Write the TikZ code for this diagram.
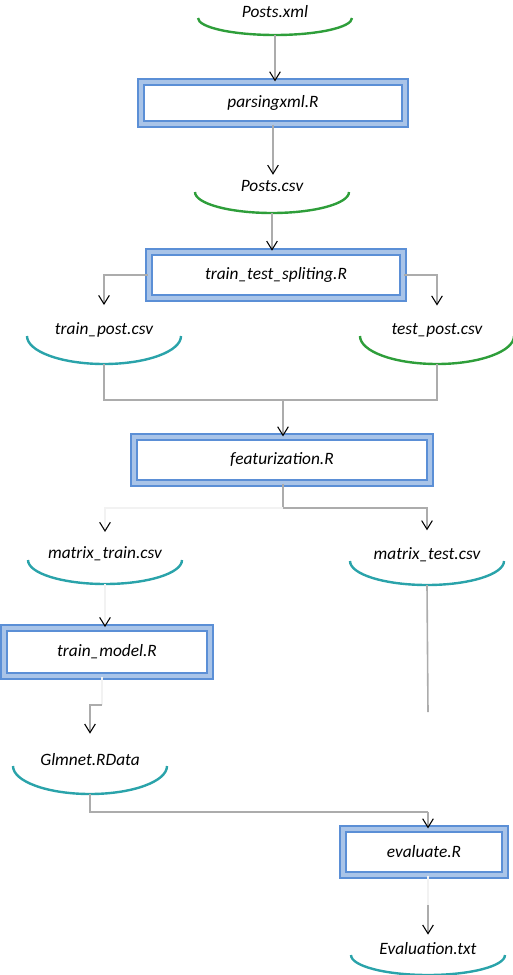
\documentclass[tikz,border=0pt]{standalone}
\usepackage{fontspec}
\setmainfont{Carlito}
\usetikzlibrary{arrows.meta,calc}
\definecolor{scriptblue}{HTML}{5B8FD6}
\definecolor{scriptband}{HTML}{A9C4E8}
\definecolor{filegreen}{HTML}{2E9E3A}
\definecolor{fileteal}{HTML}{2AA3AA}
\tikzset{
  script/.style={draw=scriptblue, double=scriptband, line width=1.4pt,
    double distance=3pt, font=\itshape\fontsize{13}{15}\selectfont},
  filename/.style={inner sep=1pt, font=\itshape\fontsize{13}{15}\selectfont},
  wire/.style={draw=gray!65, line width=1.2pt},
  pale/.style={draw=gray!10, line width=1.2pt},
  pics/datafile/.style n args={3}{code={
    \node[filename] (-t) at (0,0) {#1};
    \draw[#2, line width=1.8pt] (-77,6) arc[start angle=180, end angle=0, x radius=77, y radius=#3];
    \coordinate (-b) at (0,6+#3);
  }},
}
\begin{document}
\begin{tikzpicture}[x=0.75pt, y=-0.75pt,
    >={Straight Barb[length=6.5pt, width=8pt, color=black, line width=0.8pt]}]
    \useasboundingbox (0,0) rectangle (513,975);
    % files and scripts
    \pic (postsxml) at (275,12) {datafile={Posts.xml}{filegreen}{17}};
    \node[script, minimum width=198pt, minimum height=31pt] (parsing) at (273,103) {parsingxml.R};
    \pic (postscsv) at (272,186) {datafile={Posts.csv}{filegreen}{21}};
    \node[script, minimum width=191pt, minimum height=35pt] (split) at (276,275) {train\_test\_spliting.R};
    \pic (trainpost) at (104,330) {datafile={train\_post.csv}{fileteal}{28}};
    \pic (testpost) at (437,330) {datafile={test\_post.csv}{filegreen}{28}};
    \node[script, minimum width=222pt, minimum height=34pt] (feat) at (282,460) {featurization.R};
    \pic (matrixtrain) at (105,554) {datafile={matrix\_train.csv}{fileteal}{24}};
    \pic (matrixtest) at (427,555) {datafile={matrix\_test.csv}{fileteal}{24}};
    \node[script, minimum width=154pt, minimum height=36pt] (trainmodel) at (107,652) {train\_model.R};
    \pic (glmnet) at (90,760) {datafile={Glmnet.RData}{fileteal}{28}};
    \node[script, minimum width=121pt, minimum height=34pt] (evaluate) at (424,852) {evaluate.R};
    \pic (evaltxt) at (428,949) {datafile={Evaluation.txt}{fileteal}{20}};
    % bends
    \coordinate (merge) at (283,400);
    \coordinate (fbend) at (283,508);
    \coordinate (tmbend) at (102,705);
    \coordinate (evbend) at (428,812);
    \coordinate (evmid) at (428,905);
    \coordinate (mtend) at (428,712);
    % connectors
    \draw[wire,->] (postsxml-b) -- (postsxml-b |- parsing.north);
    \draw[wire,->] (parsing.south) -- ([yshift=3pt]parsing.south |- postscsv-t.north);
    \draw[wire,->] (postscsv-b) -- (postscsv-b |- split.north);
    \draw[wire,->] (split.west) -| ([yshift=12pt]trainpost-t.north);
    \draw[wire,->] (split.east) -| ([yshift=12pt]testpost-t.north);
    \draw[wire] (trainpost-b) |- (merge) -| (testpost-b);
    \draw[wire,->] (merge) -- (merge |- feat.north);
    \draw[wire] (feat.south -| fbend) -- (fbend);
    \draw[wire,->] (fbend) -| ([yshift=12pt]matrixtest-t.north);
    \draw[pale,->] (fbend) -| ([yshift=10pt]matrixtrain-t.north);
    \draw[pale,->] (matrixtrain-b) -- (matrixtrain-b |- trainmodel.north);
    \draw[wire] (matrixtest-b) -- (mtend);
    \draw[pale] (tmbend |- trainmodel.south) -- (tmbend);
    \draw[wire,->] (tmbend) -| ([yshift=14pt]glmnet-t.north);
    \draw[wire] (glmnet-b) |- (evbend);
    \draw[wire,->] (evbend) -- (evbend |- evaluate.north);
    \draw[pale] (evaluate.south -| evmid) -- (evmid);
    \draw[wire,->] (evmid) -- ([yshift=5pt]evaltxt-t.north);
\end{tikzpicture}
\end{document}
